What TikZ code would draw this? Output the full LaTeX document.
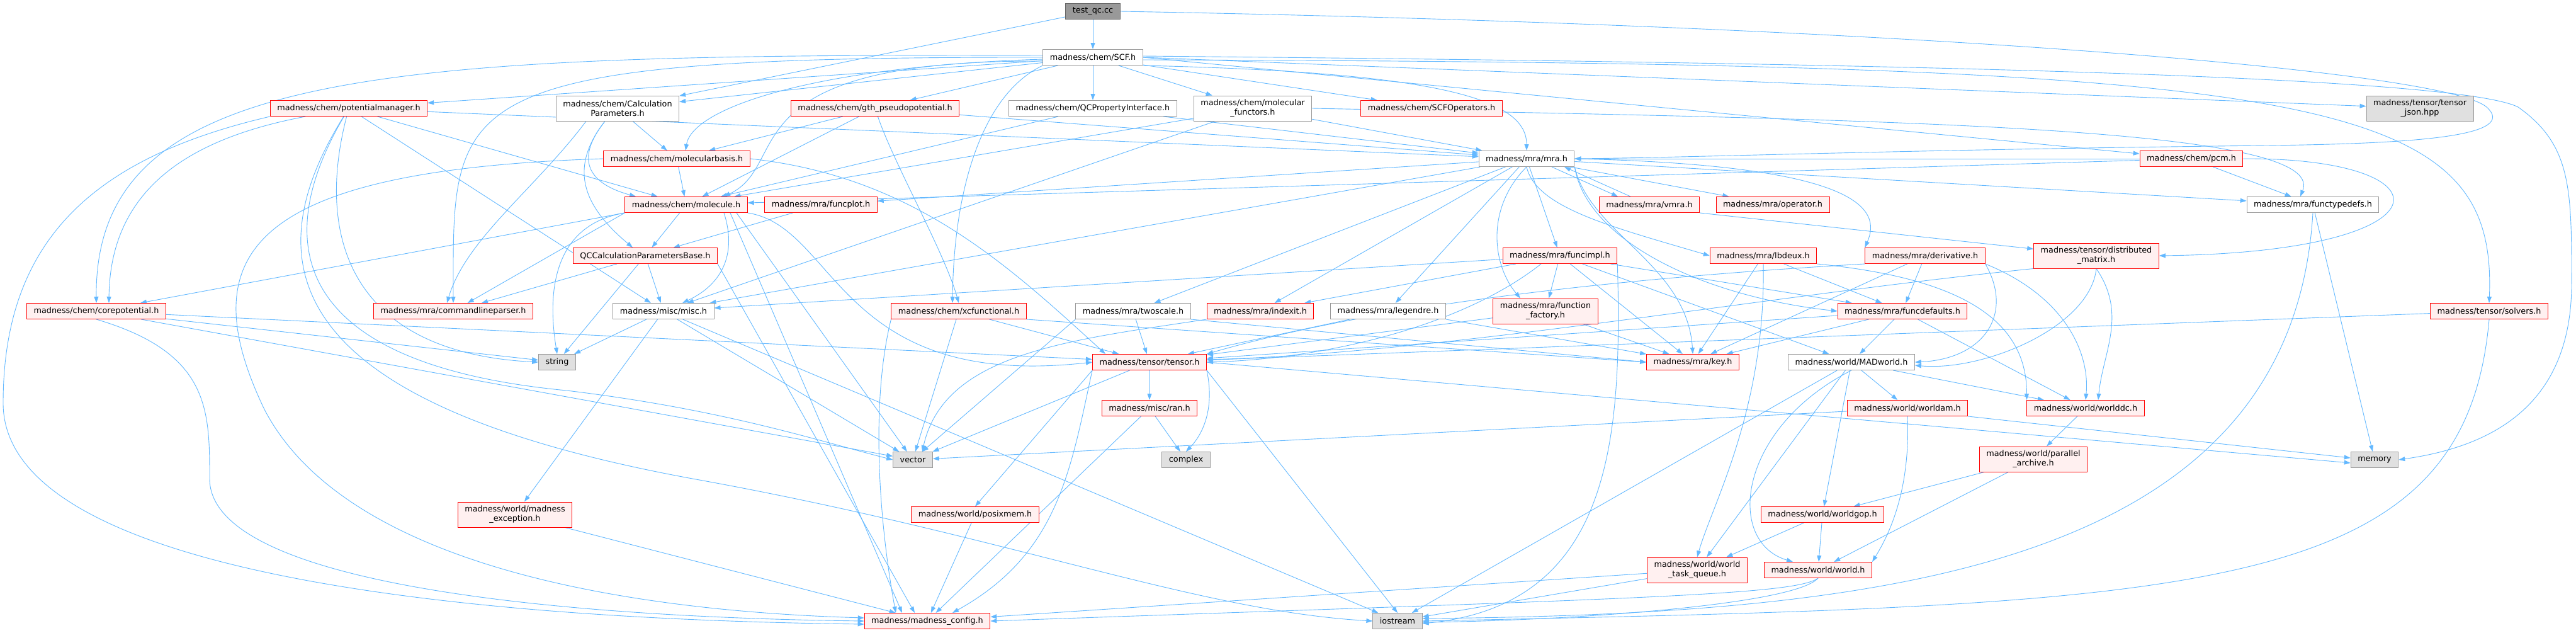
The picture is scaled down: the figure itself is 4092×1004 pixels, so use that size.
\documentclass[tikz,border=0pt]{standalone}
\usepackage{fontspec}
\setmainfont{DejaVu Sans}
\usetikzlibrary{arrows.meta,backgrounds}
\definecolor{edgeblue}{HTML}{63B8FF}
\definecolor{truncfill}{HTML}{FFF0F0}
\definecolor{docline}{HTML}{999999}
\definecolor{sysfill}{HTML}{E0E0E0}
\definecolor{rootfill}{HTML}{999999}
\definecolor{rootline}{HTML}{666666}

\begin{document}
\begin{tikzpicture}[
    x=1pt, y=-1pt,
    every node/.style={font=\fontsize{12.8}{15}\selectfont, inner xsep=11pt, inner ysep=2pt, minimum height=25pt, line width=1pt},
    trunc/.style={draw=red, fill=truncfill},
    docbox/.style={draw=docline, fill=white},
    sysbox/.style={draw=docline, fill=sysfill},
    rootbox/.style={draw=rootline, fill=rootfill},
    two/.style={align=center, minimum height=40pt},
    inc/.style={draw=edgeblue, line width=0.9pt, -{Triangle[length=10pt,width=7pt]}}
]
\useasboundingbox (0,0) rectangle (4092,1004);

\node[rootbox] (testqc) at (1736,18) {test\_qc.cc};
\node[docbox] (scf) at (1736,91) {madness/chem/SCF.h};
\node[trunc] (potmgr) at (554,172) {madness/chem/potentialmanager.h};
\node[docbox, two] (calcparams) at (981,172) {madness/chem/Calculation\\Parameters.h};
\node[trunc] (gth) at (1390,172) {madness/chem/gth\_pseudopotential.h};
\node[docbox] (qcprop) at (1736,172) {madness/chem/QCPropertyInterface.h};
\node[docbox, two] (molfunc) at (1990,172) {madness/chem/molecular\\\_functors.h};
\node[trunc] (scfops) at (2274,172) {madness/chem/SCFOperators.h};
\node[sysbox, two] (tensorjson) at (3844,172) {madness/tensor/tensor\\\_json.hpp};
\node[trunc] (molbasis) at (1075,252) {madness/chem/molecularbasis.h};
\node[docbox] (mra) at (2425,252) {madness/mra/mra.h};
\node[trunc] (pcm) at (3481,252) {madness/chem/pcm.h};
\node[trunc] (molecule) at (1090,325) {madness/chem/molecule.h};
\node[trunc] (funcplot) at (1304,325) {madness/mra/funcplot.h};
\node[trunc] (vmra) at (2620,325) {madness/mra/vmra.h};
\node[trunc] (opr) at (2816,325) {madness/mra/operator.h};
\node[docbox] (functypedefs) at (3674,325) {madness/mra/functypedefs.h};
\node[trunc] (qcbase) at (1025,406) {QCCalculationParametersBase.h};
\node[trunc] (funcimpl) at (2478,406) {madness/mra/funcimpl.h};
\node[trunc] (lbdeux) at (2801,406) {madness/mra/lbdeux.h};
\node[trunc] (derivative) at (3058,406) {madness/mra/derivative.h};
\node[trunc, two] (distmatrix) at (3330,406) {madness/tensor/distributed\\\_matrix.h};
\node[trunc] (corepot) at (153,494) {madness/chem/corepotential.h};
\node[trunc] (cmdparser) at (720,494) {madness/mra/commandlineparser.h};
\node[docbox] (misc) at (1054,494) {madness/misc/misc.h};
\node[trunc] (xcfunc) at (1523,494) {madness/chem/xcfunctional.h};
\node[docbox] (twoscale) at (1800,494) {madness/mra/twoscale.h};
\node[trunc] (indexit) at (2002,494) {madness/mra/indexit.h};
\node[docbox] (legendre) at (2205,494) {madness/mra/legendre.h};
\node[trunc, two] (funcfactory) at (2455,494) {madness/mra/function\\\_factory.h};
\node[trunc] (funcdefaults) at (3022,494) {madness/mra/funcdefaults.h};
\node[trunc] (solvers) at (3954,494) {madness/tensor/solvers.h};
\node[sysbox] (stringh) at (885,575) {string};
\node[trunc] (tensor) at (1826,575) {madness/tensor/tensor.h};
\node[trunc] (key) at (2689,575) {madness/mra/key.h};
\node[docbox] (madworld) at (2941,575) {madness/world/MADworld.h};
\node[trunc] (ran) at (1826,648) {madness/misc/ran.h};
\node[trunc] (worldam) at (3030,648) {madness/world/worldam.h};
\node[trunc] (worlddc) at (3313,648) {madness/world/worlddc.h};
\node[sysbox] (vectorh) at (1450,730) {vector};
\node[sysbox] (complexh) at (1884,730) {complex};
\node[trunc, two] (parallelarch) at (3230,729) {madness/world/parallel\\\_archive.h};
\node[sysbox] (memoryh) at (3772,730) {memory};
\node[trunc, two] (madexc) at (818,817) {madness/world/madness\\\_exception.h};
\node[trunc] (posixmem) at (1549,817) {madness/world/posixmem.h};
\node[trunc] (worldgop) at (2895,817) {madness/world/worldgop.h};
\node[trunc, two] (worldtq) at (2696,905) {madness/world/world\\\_task\_queue.h};
\node[trunc] (world) at (2888,905) {madness/world/world.h};
\node[trunc] (madconfig) at (1473,986) {madness/madness\_config.h};
\node[sysbox] (iostreamh) at (2220,986) {iostream};

\begin{scope}[on background layer]
\draw[inc] (testqc) -- (scf);
\draw[inc] (testqc) -- (calcparams);
\draw[inc] (testqc.east) .. controls (3000,40) and (3880,110) .. (3950,170) .. controls (4000,215) and (3850,228) .. (3600,231) .. controls (3000,238) and (2700,250) .. (mra.east);

\draw[inc] (scf) -- (potmgr);
\draw[inc] (scf) -- (calcparams);
\draw[inc] (scf) -- (gth);
\draw[inc] (scf) -- (qcprop);
\draw[inc] (scf) -- (molfunc);
\draw[inc] (scf) -- (scfops);
\draw[inc] (scf.south east) .. controls (2300,115) and (2425,160) .. (mra.north);
\draw[inc] (scf.east) -- (tensorjson);
\draw[inc] (scf.east) -- (pcm);
\draw[inc] ([yshift=-3pt]scf.west) .. controls (1300,105) and (1100,170) .. ([xshift=14pt]molbasis.north);
\draw[inc] ([yshift=-6pt]scf.west) .. controls (1150,95) and (1260,260) .. ([xshift=60pt]molecule.north);
\draw[inc] ([yshift=3pt]scf.west) .. controls (600,85) and (150,110) .. (corepot.north);
\draw[inc] (scf.west) .. controls (700,90) and (720,150) .. (cmdparser.north);
\draw[inc] (scf.south west) .. controls (1560,150) and (1515,300) .. ([xshift=-10pt]xcfunc.north);
\draw[inc] ([yshift=-4pt]scf.east) .. controls (3700,100) and (3967,150) .. (solvers.north);
\draw[inc] ([yshift=2pt]scf.east) .. controls (3000,100) and (3900,120) .. (4000,170) .. controls (4085,230) and (4085,300) .. (4085,450) .. controls (4085,650) and (3950,710) .. (memoryh.east);

\draw[inc] (potmgr) .. controls (300,220) and (175,300) .. ([xshift=20pt]corepot.north);
\draw[inc] (potmgr.south west) .. controls (150,250) and (5,380) .. (5,640) .. controls (5,940) and (900,985) .. ([yshift=-5pt]madconfig.west);
\draw[inc] (potmgr) -- (molecule);
\draw[inc] (potmgr) -- (mra);
\draw[inc] (potmgr) -- (misc);
\draw[inc] (potmgr) .. controls (500,380) and (560,560) .. (stringh.west);
\draw[inc] (potmgr) .. controls (420,400) and (480,580) .. (900,620) .. controls (1150,650) and (1300,700) .. (vectorh.west);
\draw[inc] (potmgr) .. controls (380,450) and (500,650) .. (1100,760) .. controls (1600,850) and (1900,970) .. (iostreamh.west);

\draw[inc] (calcparams) -- (molbasis);
\draw[inc] ([xshift=-20pt]calcparams.south) .. controls (915,250) and (930,290) .. ([xshift=-80pt]molecule.north);
\draw[inc] ([xshift=-20pt]calcparams.south) .. controls (900,270) and (930,330) .. ([xshift=-20pt]qcbase.north);
\draw[inc] ([xshift=-50pt]calcparams.south) .. controls (850,300) and (740,380) .. ([xshift=-10pt]cmdparser.north);

\draw[inc] (gth) -- (molbasis);
\draw[inc] (gth) -- (molecule);
\draw[inc] (gth) .. controls (1420,260) and (1500,400) .. (xcfunc.north);
\draw[inc] (gth) -- (mra);

\draw[inc] (qcprop) -- (mra);
\draw[inc] (qcprop) -- (molecule);

\draw[inc] (molfunc) -- (mra);
\draw[inc] (molfunc) -- (molecule);
\draw[inc] (molfunc) -- (misc);
\draw[inc] (molfunc.east) .. controls (3000,190) and (3700,200) .. ([xshift=-20pt]functypedefs.north);

\draw[inc] (molbasis) -- (molecule);
\draw[inc] (molbasis.east) .. controls (1450,280) and (1600,420) .. ([xshift=-70pt]tensor.north);
\draw[inc] (molbasis.west) .. controls (400,270) and (300,400) .. (420,650) .. controls (550,900) and (1000,970) .. ([yshift=5pt]madconfig.west);

\draw[inc] (molecule.south west) -- (corepot);
\draw[inc] (molecule.south west) -- (cmdparser);
\draw[inc] (molecule) -- (qcbase);
\draw[inc] ([xshift=60pt]molecule.south) .. controls (1170,400) and (1150,450) .. ([xshift=30pt]misc.north);
\draw[inc] (molecule.south west) .. controls (860,360) and (875,500) .. (stringh.north);
\draw[inc] (molecule.south east) .. controls (1330,360) and (1330,620) .. (tensor.west);
\draw[inc] ([xshift=70pt]molecule.south) -- ([xshift=-40pt]madconfig.north);
\draw[inc] ([xshift=80pt]molecule.south) -- (vectorh);

\draw[inc] (funcplot) -- (qcbase);

\draw[inc] (qcbase) -- (cmdparser);
\draw[inc] (qcbase) -- (stringh);
\draw[inc] (qcbase) -- (misc);
\draw[inc] (qcbase.south east) -- ([xshift=-20pt]madconfig.north);

\draw[inc] (corepot) -- (stringh);
\draw[inc] (corepot.south) .. controls (333,560) and (333,650) .. (333,760) .. controls (333,930) and (900,980) .. (madconfig.west);
\draw[inc] (corepot) -- (vectorh);
\draw[inc] (corepot) -- (tensor);

\draw[inc] (misc) -- (stringh);
\draw[inc] (misc) -- (madexc);
\draw[inc] (misc) -- (iostreamh);
\draw[inc] (misc) -- (vectorh);

\draw[inc] (madexc) -- (madconfig);

\draw[inc] (xcfunc) -- (tensor);
\draw[inc] (xcfunc) -- (vectorh);
\draw[inc] (xcfunc.south west) .. controls (1380,650) and (1400,850) .. ([xshift=-50pt]madconfig.north);
\draw[inc] (xcfunc.south east) -- (key.west);

\draw[inc] (twoscale) -- (tensor);
\draw[inc] (twoscale.south east) -- (key.west);
\draw[inc] (twoscale.south west) -- (vectorh);

\draw[inc] (indexit.south west) .. controls (1700,540) and (1500,560) .. ([xshift=15pt]vectorh.north);

\draw[inc] (legendre.south east) -- (key);
\draw[inc] (legendre) -- (tensor);

\draw[inc] (funcfactory) -- (tensor);
\draw[inc] (funcfactory) -- (key);

\draw[inc] (funcimpl) -- (misc);
\draw[inc] (funcimpl) -- (indexit);
\draw[inc] (funcimpl) -- (funcfactory);
\draw[inc] ([xshift=-30pt]funcimpl.south) .. controls (2320,520) and (2100,570) .. (tensor.east);
\draw[inc] (funcimpl) -- (key);
\draw[inc] (funcimpl) -- (funcdefaults);
\draw[inc] (funcimpl) -- (madworld);
\draw[inc] (funcimpl.south east) .. controls (2577,700) and (2560,960) .. ([yshift=-4pt]iostreamh.east);

\draw[inc] (mra) -- (funcplot);
\draw[inc] ([xshift=40pt]mra.south) -- ([xshift=-50pt]vmra.north);
\draw[inc] ([xshift=-30pt]vmra.north) -- ([xshift=60pt]mra.south);
\draw[inc] (mra) -- (opr);
\draw[inc] (mra.south) .. controls (2440,330) and (2560,360) .. (lbdeux.west);
\draw[inc] (mra.east) .. controls (2950,262) and (2990,330) .. (derivative.north west);
\draw[inc] (mra) -- (funcimpl);
\draw[inc] (mra.south east) .. controls (2520,380) and (2700,470) .. (funcdefaults.west);
\draw[inc] (mra.south east) .. controls (2525,370) and (2680,420) .. (key.north);
\draw[inc] (mra) -- (functypedefs);
\draw[inc] (mra) -- (twoscale);
\draw[inc] (mra) -- (indexit);
\draw[inc] (mra) -- (legendre);
\draw[inc] (mra.south) .. controls (2360,330) and (2370,420) .. ([xshift=-40pt]funcfactory.north);
\draw[inc] (mra) -- (misc);

\draw[inc] (vmra.south east) -- (distmatrix);

\draw[inc] (pcm) -- (functypedefs);
\draw[inc] (pcm) -- (mra);
\draw[inc] (pcm) -- (molecule);
\draw[inc] (pcm.east) .. controls (3900,250) and (3900,400) .. (distmatrix.east);

\draw[inc] (lbdeux) -- (key);
\draw[inc] (lbdeux) -- (funcdefaults);
\draw[inc] (lbdeux.south east) .. controls (3100,440) and (3220,500) .. (worlddc.north west);
\draw[inc] (lbdeux.south) .. controls (2805,650) and (2720,800) .. (worldtq.north);

\draw[inc] (derivative) -- (funcdefaults);
\draw[inc] (derivative) -- (key);
\draw[inc] (derivative.south east) .. controls (3200,500) and (3150,570) .. (madworld.east);
\draw[inc] (derivative.south east) .. controls (3280,470) and (3320,560) .. (worlddc.north);
\draw[inc] (derivative.south west) .. controls (2600,440) and (2200,480) .. (tensor.north east);

\draw[inc] (distmatrix.south) .. controls (3320,520) and (3150,590) .. ([yshift=-5pt]madworld.east);
\draw[inc] (distmatrix.south) .. controls (3380,500) and (3340,560) .. ([xshift=20pt]worlddc.north);
\draw[inc] (distmatrix.south west) .. controls (2800,470) and (2300,560) .. ([yshift=4pt]tensor.east);

\draw[inc] (funcdefaults) -- (key);
\draw[inc] (funcdefaults) -- (madworld);
\draw[inc] (funcdefaults) -- (worlddc);
\draw[inc] (funcdefaults) -- (tensor);

\draw[inc] (solvers) -- (tensor);
\draw[inc] (solvers.south) .. controls (3915,950) and (3500,960) .. (iostreamh.east);

\draw[inc] (functypedefs) -- (memoryh);
\draw[inc] (functypedefs.south) .. controls (3640,900) and (3000,975) .. ([yshift=4pt]iostreamh.east);

\draw[inc] (madworld) -- (worldam);
\draw[inc] (madworld) -- (worlddc);
\draw[inc] (madworld) -- (worldgop);
\draw[inc] (madworld.south) .. controls (2760,680) and (2740,860) .. ([xshift=-40pt]world.north);
\draw[inc] (madworld) -- (worldtq);
\draw[inc] (madworld) -- (iostreamh);

\draw[inc] (worldam.south east) -- ([yshift=3pt]memoryh.west);
\draw[inc] (worldam.south) .. controls (3035,780) and (3000,850) .. (world.north east);
\draw[inc] (worldam) -- (vectorh);

\draw[inc] (worlddc) -- (parallelarch);

\draw[inc] (parallelarch) -- (worldgop);
\draw[inc] (parallelarch) -- (world);

\draw[inc] (worldgop) -- (worldtq);
\draw[inc] (worldgop) -- (world);

\draw[inc] (world.south) .. controls (2850,945) and (2600,950) .. (madconfig.east);
\draw[inc] (world.south) .. controls (2850,960) and (2500,985) .. ([yshift=-2pt]iostreamh.east);

\draw[inc] (worldtq) -- (madconfig);
\draw[inc] (worldtq) -- (iostreamh);

\draw[inc] (tensor) -- (ran);
\draw[inc] (tensor.south east) .. controls (1930,650) and (1910,690) .. (complexh.north);
\draw[inc] (tensor) -- (vectorh);
\draw[inc] (tensor.south west) -- (posixmem.north);
\draw[inc] (tensor.south west) .. controls (1700,750) and (1680,880) .. ([xshift=40pt]madconfig.north);
\draw[inc] (tensor.south east) -- (iostreamh.north);
\draw[inc] (tensor.east) -- ([yshift=-5pt]memoryh.west);

\draw[inc] (ran) -- (complexh);
\draw[inc] (ran) -- (madconfig);

\draw[inc] (posixmem) -- (madconfig);
\end{scope}

\end{tikzpicture}
\end{document}
